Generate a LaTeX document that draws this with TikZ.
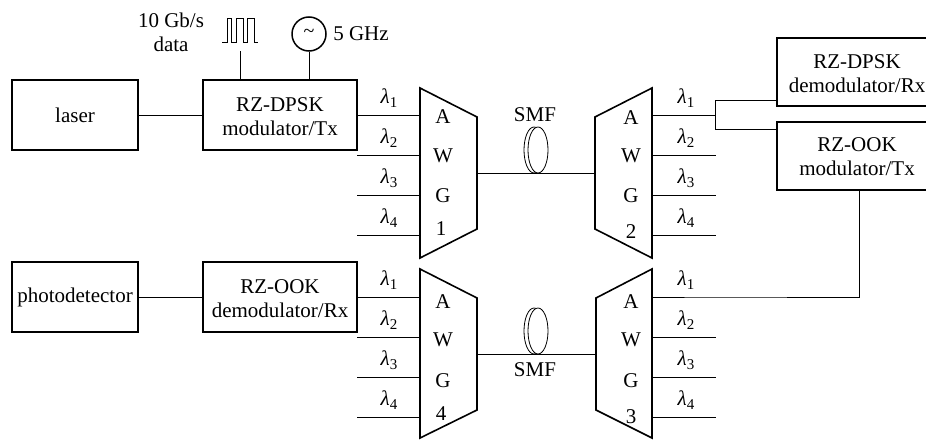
\documentclass[tikz,border=0pt]{standalone}
\usepackage{fontspec}
\setmainfont{Liberation Serif}
\newcommand\lam[1]{{\itshape λ}\raisebox{-4pt}{\fontsize{15}{15}\selectfont #1}}
\tikzset{
  box/.style={draw,line width=1.6pt,inner sep=0pt,align=center,font=\fontsize{21}{24}\selectfont},
  awg/.style={draw,line width=1.6pt,line join=miter},
  conn/.style={line width=0.9pt},
  txt/.style={inner sep=0pt,font=\fontsize{21}{24}\selectfont,align=center},
  lab/.style={inner sep=0pt,font=\fontsize{21}{22}\selectfont}
}
\newcommand\mkbox[6]{\node[box,minimum width=#4 pt - #2 pt,minimum height=#5 pt - #3 pt] (#1) at ({(#2+#4)/2},{(#3+#5)/2}) {#6};}
\newcommand\awgunit[6]{\draw[awg] (#1,#3) -- (#2,#4) -- (#2,#5) -- (#1,#6) -- cycle;}
\begin{document}
\begin{tikzpicture}[x=1pt,y=-1pt]
\useasboundingbox (0,0) rectangle (926,439);
% boxes
\mkbox{laser}{12}{80}{138}{150}{laser}
\mkbox{dpskmod}{203}{80}{357}{150}{}
\mkbox{pd}{12}{262}{138}{332}{photodetector}
\mkbox{ookdem}{203}{262}{357}{332}{}
\begin{scope}
\clip (700,0) rectangle (926,439);
\mkbox{dpskdem}{777}{38}{940}{106}{}
\mkbox{ookmod}{777}{122}{940}{190}{}
\end{scope}
\node[txt] (dpskmodt) at (280,117) {RZ-DPSK\\modulator/Tx};
\node[txt] (ookdemt) at (280,299) {RZ-OOK\\demodulator/Rx};
\node[txt] (dpskdemt) at (857,74) {RZ-DPSK\\demodulator/Rx};
\node[txt] (ookmodt) at (857,157) {RZ-OOK\\modulator/Tx};
% AWGs
\awgunit{420}{477}{88}{117}{229}{258}
\awgunit{595}{652}{117}{88}{258}{229}
\awgunit{596}{652}{298}{269}{438}{410}
\awgunit{420}{477}{269}{298}{410}{438}
\foreach \x/\xn/\tname/\ya/\yw/\yg/\yn/\d in {
  443/441/a/117/156/196/229/1,
  631/631/b/118/156/196/232/2,
  443/441/d/302/340/381/414/4,
  631/631/c/302/340/381/417/3}{
  \node[lab] (A\tname) at (\x,\ya) {A};
  \node[lab] (W\tname) at (\x,\yw) {W};
  \node[lab] (G\tname) at (\x,\yg) {G};
  \node[lab] (N\tname) at (\xn,\yn) {\d};
}
% lambda rows
\foreach \n/\xa/\xb/\xl/\ya/\yb/\yc/\yd in {
  a/357/420/389/115/155/195/235,
  b/652/716/686/115/155/195/235,
  d/357/420/389/297/337/377/417,
  c/652/716/686/297/337/377/417}{
  \foreach \i/\y in {1/\ya,2/\yb,3/\yc,4/\yd}{
    \coordinate (\n l\i) at (\xa,\y);
    \coordinate (\n r\i) at (\xb,\y);
    \node[inner sep=0pt,font=\fontsize{21}{22}\selectfont] (\n t\i) at (\xl,\y-17) {\lam{\i}};
  }
}
\foreach \n in {a,b,c,d}{
  \foreach \i in {2,3,4}{\draw[conn] (\n l\i) -- (\n r\i);}
}
\draw[conn] (dl1) -- (dr1);
\draw[conn] (al1) -- (ar1);
\draw[conn] (bl1) -- (br1);
% coils
\foreach \cx/\cy in {536/150,536/331}{
  \draw[line width=0.8pt] (\cx-2,\cy) ellipse [x radius=10,y radius=23];
  \draw[line width=0.8pt,fill=white] (\cx+2,\cy) ellipse [x radius=10,y radius=23];
}
% links
\draw[conn] (laser.east) -- (dpskmod.west);
\draw[conn] (pd.east) -- (ookdem.west);
% fibre spans
\coordinate (af) at (477,173);
\coordinate (bf) at (595,173);
\coordinate (df) at (477,354);
\coordinate (cf) at (596,354);
\draw[conn] (af) -- (bf);
\draw[conn] (df) -- (cf);
\node[lab] (smf1) at (535,115) {SMF};
\node[lab] (smf2) at (535,370) {SMF};
% split
\coordinate (jt) at (715,100);
\coordinate (jb) at (715,129);
\draw[conn] (777,100) -- (jt) -- (jb) -- (777,129);
% ook tx to awg3
\coordinate (bend) at (859,297);
\coordinate (ooktop) at (859,190);
\draw[conn] (ooktop) -- (bend) -- (cr1) -- (cl1);
% top signals
\node[txt] (datalab) at (171,32) {10 Gb/s\\data};
\coordinate (pulsein) at (240,80);
\coordinate (pulseout) at (240,51);
\draw[conn] (pulsein) -- (pulseout);
\draw[line width=0.9pt] (222,42) -- (227,42) -- (227,18) -- (231,18) -- (231,42) -- (236,42) -- (236,18) -- (243,18) -- (243,42) -- (247,42) -- (247,18) -- (254,18) -- (254,42) -- (258,42);
\node[circle,draw,line width=1.5pt,minimum size=34pt,inner sep=0pt,font=\fontsize{20}{20}\selectfont] (osc) at (309,34) {\raisebox{2pt}{\textasciitilde}};
\draw[conn] (osc.south) -- (309,80);
\node[txt] (ghz) at (361,34) {5 GHz};
\end{tikzpicture}
\end{document}
